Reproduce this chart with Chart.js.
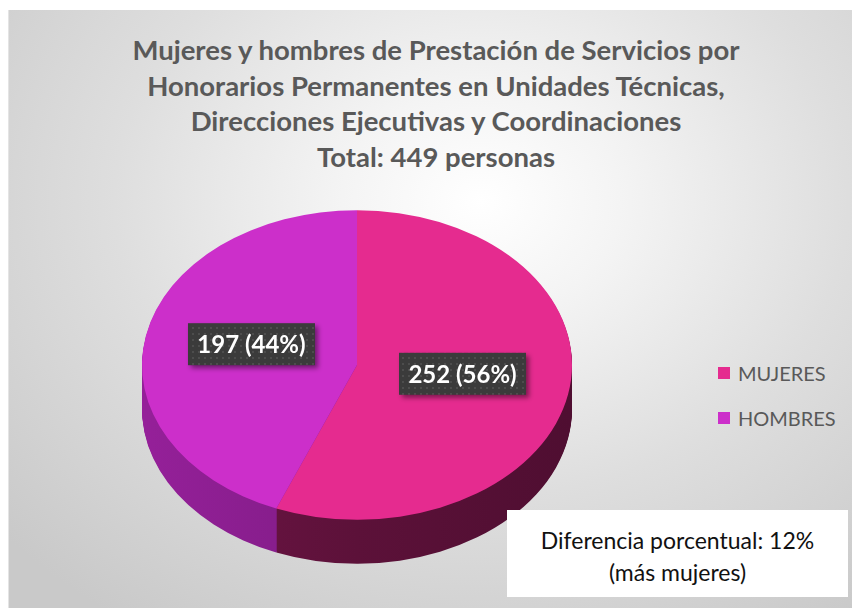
<!DOCTYPE html>
<html lang="es">

<head>
    <meta charset="UTF-8">
    <title>Mujeres y hombres - Honorarios Permanentes</title>
    <script src="https://cdn.jsdelivr.net/npm/chart.js"></script>
    <style>
        body {
            margin: 0;
            width: 852px;
            height: 608px;
            overflow: hidden;
            background: #fff;
            font-family: Lato, "Open Sans", sans-serif;
            position: relative;
        }

        #frame {
            position: absolute;
            left: 8px;
            top: 10px;
            right: 0;
            bottom: 0;
            background: radial-gradient(ellipse 75% 85% at 56% 32%, #ffffff 0%, #f4f4f4 22%, #dedede 58%, #c9c9c9 100%);
            border-left: 1px solid #e4e4e4;
        }

        #title {
            position: absolute;
            left: 20px;
            right: 0;
            top: 32px;
            text-align: center;
            font-weight: bold;
            font-size: 27.5px;
            line-height: 35.5px;
            color: #595959;
        }

        #pie {
            position: absolute;
            left: 107px;
            top: 140px;
        }

        #legend {
            position: absolute;
            left: 718px;
            top: 361px;
            font-size: 20px;
            color: #595959;
        }

        #legend div {
            height: 45px;
            display: flex;
            align-items: flex-start;
            line-height: 24px;
        }

        #legend span.box {
            display: inline-block;
            width: 12px;
            height: 12px;
            margin: 6px 8px 0 0;
        }

        #note {
            position: absolute;
            left: 507px;
            top: 510px;
            width: 341px;
            height: 87px;
            background: #fff;
            text-align: center;
            font-size: 23px;
            line-height: 32px;
            color: #111;
            padding-top: 14px;
            box-sizing: border-box;
        }
    </style>
</head>

<body>
    <div id="frame"></div>
    <div id="title">
        Mujeres y hombres de Prestación de Servicios por<br>
        Honorarios Permanentes en Unidades Técnicas,<br>
        Direcciones Ejecutivas y Coordinaciones<br>
        Total: 449 personas
    </div>

    <canvas id="pie" width="500" height="450"></canvas>

    <div id="legend"></div>

    <div id="note">Diferencia porcentual: 12%<br>(más mujeres)</div>

    <script>
        // data
        const categories = ['MUJERES', 'HOMBRES'];
        const personas = [252, 197];
        const topColors = ['#e52b8f', '#cc2fca'];
        // side colours (left -> right) for the 3D edge
        const sideColors = [['#701547', '#5c1139', '#4f0e31'], ['#952099', '#7f1c85', '#671770']];

        const TILT = 0.72;   // vertical squash of the pie top
        const DEPTH = 44;    // thickness of the pie edge

        // dotted fill used behind the data labels
        function dotPattern(ctx) {
            const c = document.createElement('canvas');
            c.width = 6;
            c.height = 6;
            const p = c.getContext('2d');
            p.fillStyle = '#3b3b3b';
            p.fillRect(0, 0, 6, 6);
            p.fillStyle = '#4d4d4d';
            p.fillRect(1, 1, 2, 2);
            return ctx.createPattern(c, 'repeat');
        }

        const pie3d = {
            id: 'pie3d',
            beforeDatasetsDraw(chart) {
                const ctx = chart.ctx;
                const arcs = chart.getDatasetMeta(0).data;
                const cx = arcs[0].x, cy = arcs[0].y, r = arcs[0].outerRadius;

                // edge: stack darker copies of each slice downwards
                const grads = sideColors.map(cols => {
                    const g = ctx.createLinearGradient(cx - r, 0, cx + r, 0);
                    g.addColorStop(0, cols[0]);
                    g.addColorStop(0.5, cols[1]);
                    g.addColorStop(1, cols[2]);
                    return g;
                });
                for (let d = DEPTH; d >= 1; d--) {
                    ctx.save();
                    ctx.translate(cx, cy + d);
                    ctx.scale(1, TILT);
                    ctx.translate(-cx, -cy);
                    arcs.forEach((arc, i) => {
                        const orig = arc.options;
                        arc.options = Object.assign({}, orig, { backgroundColor: grads[i], borderWidth: 0 });
                        arc.draw(ctx);
                        arc.options = orig;
                    });
                    ctx.restore();
                }

                // squash the real slices into an ellipse
                ctx.save();
                ctx.translate(cx, cy);
                ctx.scale(1, TILT);
                ctx.translate(-cx, -cy);
            },
            afterDatasetsDraw(chart) {
                const ctx = chart.ctx;
                ctx.restore();

                // data labels
                const arcs = chart.getDatasetMeta(0).data;
                const values = chart.data.datasets[0].data;
                const total = values.reduce((a, b) => a + b, 0);
                const fill = dotPattern(ctx);
                ctx.font = 'bold 24px Lato, sans-serif';
                ctx.textAlign = 'center';
                ctx.textBaseline = 'middle';
                arcs.forEach((arc, i) => {
                    const pos = arc.tooltipPosition();
                    const x = pos.x;
                    const y = arc.y + (pos.y - arc.y) * TILT - 6;
                    const text = values[i] + ' (' + Math.round(values[i] / total * 100) + '%)';
                    const w = 127, h = 42;
                    ctx.save();
                    ctx.shadowColor = 'rgba(0,0,0,0.45)';
                    ctx.shadowBlur = 5;
                    ctx.shadowOffsetX = 3;
                    ctx.shadowOffsetY = 3;
                    ctx.fillStyle = fill;
                    ctx.fillRect(x - w / 2, y - h / 2, w, h);
                    ctx.restore();
                    ctx.fillStyle = '#ffffff';
                    ctx.fillText(text, x, y + 1);
                });
            }
        };

        const chart = new Chart(document.getElementById('pie'), {
            type: 'pie',
            data: {
                labels: categories,
                datasets: [{
                    data: personas,
                    backgroundColor: topColors,
                    borderWidth: 0
                }]
            },
            options: {
                responsive: false,
                animation: false,
                events: [],
                radius: 215,
                layout: { padding: 0 },
                plugins: {
                    legend: { display: false },
                    tooltip: { enabled: false }
                }
            },
            plugins: [pie3d]
        });

        // legend built from the same arrays
        const legend = document.getElementById('legend');
        categories.forEach((name, i) => {
            const row = document.createElement('div');
            const box = document.createElement('span');
            box.className = 'box';
            box.style.background = topColors[i];
            row.appendChild(box);
            row.appendChild(document.createTextNode(name));
            legend.appendChild(row);
        });
    </script>
</body>

</html>
